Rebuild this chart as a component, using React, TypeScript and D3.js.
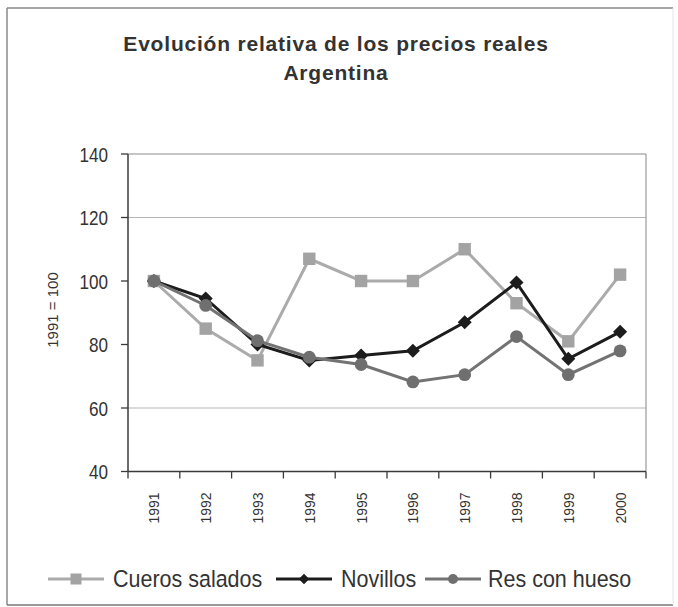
import React from "react";
import * as d3 from "d3";

const years = ["1991", "1992", "1993", "1994", "1995", "1996", "1997", "1998", "1999", "2000"];
const cueros = [100, 85, 75, 107, 100, 100, 110, 93, 81, 102];
const novillos = [100, 94.5, 80, 75, 76.5, 78, 87, 99.5, 75.5, 84];
const resConHueso = [100, 92.3, 81.2, 76, 73.7, 68.2, 70.5, 82.5, 70.5, 78];
const yTicks = [40, 60, 80, 100, 120, 140];
const gridValues = [60, 120];
const titleLines = ["Evolución relativa de los precios reales", "Argentina"];
const yLabel = "1991 = 100";

const W = 678;
const H = 607;
const plot = { left: 128, right: 646, top: 154, bottom: 471.5 };

type Series = { name: string; values: number[]; color: string; lineColor: string; marker: "square" | "diamond" | "circle" };

const seriesList: Series[] = [
  { name: "Cueros salados", values: cueros, color: "#a3a3a3", lineColor: "#ababab", marker: "square" },
  { name: "Novillos", values: novillos, color: "#1c1c1c", lineColor: "#1c1c1c", marker: "diamond" },
  { name: "Res con hueso", values: resConHueso, color: "#6f6f6f", lineColor: "#737373", marker: "circle" },
];

function Marker({ kind, x, y, color }: { kind: string; x: number; y: number; color: string }) {
  if (kind === "square") return <rect x={x - 6.2} y={y - 6.2} width={12.4} height={12.4} fill={color} />;
  if (kind === "diamond") {
    const s = d3.symbol().type(d3.symbolDiamond2).size(125)();
    return <path d={s || ""} transform={`translate(${x},${y})`} fill={color} />;
  }
  return <circle cx={x} cy={y} r={6.4} fill={color} />;
}

export default function App() {
  const x = d3.scaleBand().domain(years).range([plot.left, plot.right]);
  const y = d3.scaleLinear().domain([40, 140]).range([plot.bottom, plot.top]);
  const line = d3
    .line<number>()
    .x((_, i) => (x(years[i]) as number) + x.bandwidth() / 2)
    .y((d) => y(d));

  const font = "'Liberation Sans', Arial, sans-serif";
  const boundaries = years.map((yr) => x(yr) as number).concat([plot.right]);

  const legendItems = [
    { s: seriesList[0], lx: 48, tx: 113 },
    { s: seriesList[1], lx: 276, tx: 341 },
    { s: seriesList[2], lx: 425, tx: 488 },
  ];
  const legendY = 579;

  return (
    <svg width={W} height={H} style={{ position: "absolute", left: 0, top: 0, background: "#fff" }} fontFamily={font}>
      <rect x={0} y={0} width={W} height={H} fill="#fff" />
      {/* outer frame */}
      <line x1={7} y1={8} x2={673} y2={8} stroke="#8a8a8a" strokeWidth={1.5} />
      <line x1={7} y1={8} x2={7} y2={605} stroke="#8a8a8a" strokeWidth={1.5} />
      <line x1={7} y1={605} x2={673} y2={605} stroke="#777" strokeWidth={1.5} />
      <line x1={673} y1={8} x2={673} y2={605} stroke="#e4e4e4" strokeWidth={1} />

      {/* title */}
      {titleLines.map((t, i) => (
        <text key={t} x={336} y={51 + i * 29} textAnchor="middle" fontSize={21} letterSpacing={0.8} fontWeight="bold" fill="#333">
          {t}
        </text>
      ))}

      {/* gridlines */}
      {gridValues.map((v) => (
        <line key={v} x1={plot.left} x2={plot.right} y1={y(v)} y2={y(v)} stroke="#b5b5b5" strokeWidth={1} />
      ))}
      {/* plot frame top & right */}
      <line x1={plot.left} x2={plot.right} y1={plot.top} y2={plot.top} stroke="#8c8c8c" strokeWidth={1.2} />
      <line x1={plot.right} x2={plot.right} y1={plot.top} y2={plot.bottom} stroke="#9a9a9a" strokeWidth={1.2} />

      {/* axes */}
      <line x1={plot.left} x2={plot.left} y1={plot.top} y2={plot.bottom} stroke="#3a3a3a" strokeWidth={1.5} />
      <line x1={plot.left} x2={plot.right} y1={plot.bottom} y2={plot.bottom} stroke="#3a3a3a" strokeWidth={1.5} />
      {yTicks.map((v) => (
        <g key={v}>
          <line x1={plot.left - 7} x2={plot.left} y1={y(v)} y2={y(v)} stroke="#3a3a3a" strokeWidth={1.3} />
          <text x={108} y={y(v) + 7} textAnchor="end" fontSize={19} fill="#333" transform={`translate(108,${y(v)}) scale(0.9,1.1) translate(-108,${-y(v)})`}>
            {v}
          </text>
        </g>
      ))}
      {boundaries.map((bx, i) => (
        <line key={i} x1={bx} x2={bx} y1={plot.bottom} y2={plot.bottom + 7} stroke="#3a3a3a" strokeWidth={1.3} />
      ))}
      {years.map((yr) => {
        const cx = (x(yr) as number) + x.bandwidth() / 2;
        return (
          <text
            key={yr}
            transform={`translate(${cx + 5.5},${508}) rotate(-90) scale(1,1.1)`}
            textAnchor="middle"
            fontSize={14}
            fill="#333"
          >
            {yr}
          </text>
        );
      })}
      <text transform={`translate(58,310) rotate(-90)`} textAnchor="middle" fontSize={15} fill="#333">
        {yLabel}
      </text>

      {/* series */}
      {seriesList.map((s) => (
        <g key={s.name}>
          <path d={line(s.values) || ""} fill="none" stroke={s.lineColor} strokeWidth={3} />
          {s.values.map((v, i) => (
            <Marker key={i} kind={s.marker} x={(x(years[i]) as number) + x.bandwidth() / 2} y={y(v)} color={s.color} />
          ))}
        </g>
      ))}

      {/* legend */}
      {legendItems.map(({ s, lx, tx }) => (
        <g key={s.name}>
          <line x1={lx} x2={lx + 56} y1={legendY} y2={legendY} stroke={s.lineColor} strokeWidth={3} />
          {s.marker === "square" ? (
            <rect x={lx + 28 - 5.5} y={legendY - 5.5} width={11} height={11} fill={s.color} />
          ) : s.marker === "diamond" ? (
            <path d={d3.symbol().type(d3.symbolDiamond2).size(70)() || ""} transform={`translate(${lx + 28},${legendY})`} fill={s.color} />
          ) : (
            <circle cx={lx + 28} cy={legendY} r={5} fill={s.color} />
          )}
          <text x={tx} y={legendY + 7} fontSize={21.5} fill="#333" transform={`translate(${tx},${legendY}) scale(1,1.08) translate(${-tx},${-legendY})`}>
            {s.name}
          </text>
        </g>
      ))}
    </svg>
  );
}
